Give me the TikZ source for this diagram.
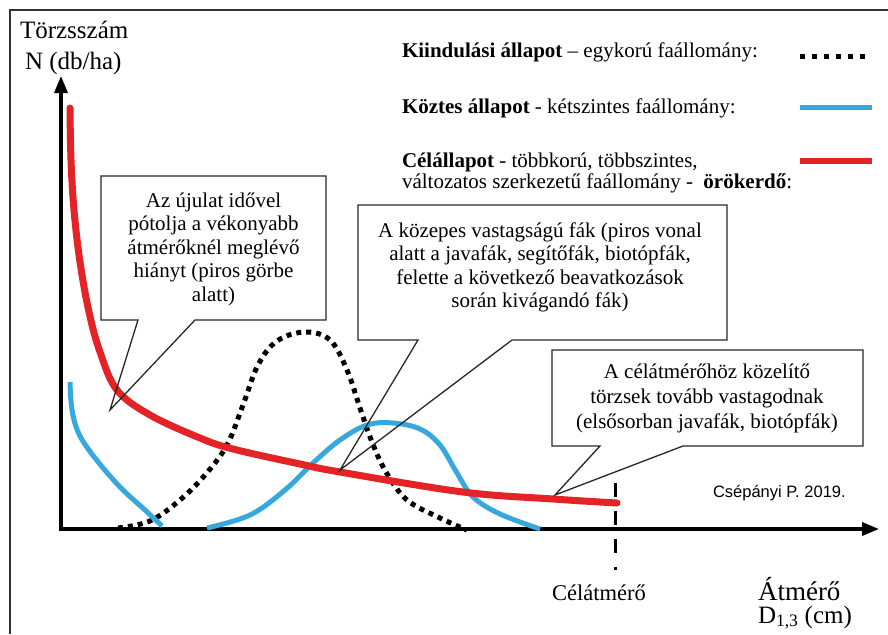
\documentclass[tikz,border=0pt]{standalone}
\usepackage{fontspec}
\setmainfont{Liberation Serif}
\newfontfamily\sansf{Liberation Sans}
\usetikzlibrary{arrows.meta}
\definecolor{cred}{RGB}{228,35,38}
\definecolor{cblue}{RGB}{55,168,222}
\begin{document}
\begin{tikzpicture}[x=1pt,y=-1pt,
  every node/.style={inner sep=0pt, outer sep=0pt},
  callout/.style={draw=black!85, line width=1.3pt, line join=miter},
  ctext/.style={align=center, font=\fontsize{21}{23.5}\selectfont, anchor=north},
  legtext/.style={anchor=base west, font=\fontsize{21}{25}\selectfont},
  axislabel/.style={font=\fontsize{25}{30}\selectfont, anchor=base west},
  axisline/.style={line width=3.5pt, {Triangle[length=17pt,width=13pt]}-{Triangle[length=17pt,width=13pt]}},
  redc/.style={cred, line width=7pt, line cap=round},
  bluec/.style={cblue, line width=5pt},
  dotc/.style={black, line width=5pt, dash pattern=on 5pt off 5pt},
  targetline/.style={black, line width=3pt, dash pattern=on 14pt off 14pt},
]
\useasboundingbox (0,0) rectangle (888,634);
% frame
\draw[black!80, line width=1.2pt] (10,634) -- (10,10) -- (888,10);

% axis labels
\node[axislabel] (ylab1) at (20,39) {Törzsszám};
\node[axislabel] (ylab2) at (25,70) {N (db/ha)};
\node[axislabel, font=\fontsize{27}{30}\selectfont] (xlab1) at (758,600) {Átmérő};
\node[axislabel] (xlab2) at (758,623) {D\textsubscript{1,3} (cm)};
\node[anchor=base, font=\fontsize{22.5}{25}\selectfont] (target) at (599,600) {Célátmérő};
\node[anchor=base west, font=\sansf\fontsize{16.5}{18}\selectfont] (author) at (713,497) {Csépányi P. 2019.};

% legend
\node[legtext] (leg1) at (402,58) {\textbf{Kiindulási állapot} – egykorú faállomány:};
\node[legtext] (leg2) at (402,113) {\textbf{Köztes állapot} - kétszintes faállomány:};
\node[legtext] (leg3) at (402,167) {\textbf{Célállapot} - többkorú, többszintes,};
\node[legtext] (leg4) at (402,188) {változatos szerkezetű faállomány - \ \textbf{örökerdő}:};
\coordinate (d1) at (800,57); \coordinate (d2) at (868,57);
\coordinate (b1) at (800,107); \coordinate (b2) at (872,107);
\coordinate (r1) at (800,161); \coordinate (r2) at (872,161);
\draw[dotc, dash pattern=on 5pt off 7pt] (d1) -- (d2);
\draw[cblue, line width=5pt] (b1) -- (b2);
\draw[cred, line width=6pt] (r1) -- (r2);

% axes
\coordinate (O) at (61,529);
\coordinate (ytip) at (61,76);
\coordinate (xtip) at (879,529);
\draw[axisline] (ytip) -- (O) -- (xtip);

% target diameter marker
\coordinate (t1) at (615,483); \coordinate (t2) at (615,570);
\draw[targetline] (t1) -- (t2);

% curves
\draw[dotc] plot[smooth, tension=0.6] coordinates {(118,528) (150,521) (180,500) (205,475) (227,445) (243,405) (258,365) (277,341) (305,332) (330,340) (347,370) (360,408) (372,442) (386,472) (407,500) (440,518) (467,530)};
\draw[bluec] plot[smooth, tension=0.6] coordinates {(70,382) (72,410) (79,434) (95,458) (120,487) (145,510) (162,526)};
\draw[bluec] plot[smooth, tension=0.6] coordinates {(207,528) (250,515) (285,490) (313,463) (340,440) (367,425) (393,423) (420,429) (440,445) (457,473) (473,497) (500,514) (540,529)};
\draw[redc] plot[smooth, tension=0.6] coordinates {(70,108) (71,160) (74,210) (80,262) (89,312) (100,352) (117,390) (150,415) (200,438) (233,449) (300,464) (340,472) (463,492) (553,499) (617,503)};

% callout 1
\coordinate (c1tip) at (110,410);
\draw[callout] (101,176) -- (326,176) -- (326,320) -- (195,320) -- (c1tip) -- (138,320) -- (101,320) -- cycle;
\node[ctext] (c1) at (213.5,192.5) {Az újulat idővel\\pótolja a vékonyabb\\átmérőknél meglévő\\hiányt (piros görbe\\alatt)};
% callout 2
\coordinate (c2tip) at (340,470);
\draw[callout] (358,205) -- (727,205) -- (727,340) -- (512,340) -- (c2tip) -- (418,340) -- (358,340) -- cycle;
\node[ctext] (c2) at (540,222.5) {A közepes vastagságú fák (piros vonal\\alatt a javafák, segítőfák, biotópfák,\\felette a következő beavatkozások\\során kivágandó fák)};
% callout 3
\coordinate (c3tip) at (555,495);
\draw[callout] (552,350) -- (863,350) -- (863,446) -- (683,446) -- (c3tip) -- (600,446) -- (552,446) -- cycle;
\node[ctext, font=\fontsize{21}{25}\selectfont] (c3) at (707,363.5) {A célátmérőhöz közelítő\\törzsek tovább vastagodnak\\(elsősorban javafák, biotópfák)};
\end{tikzpicture}
\end{document}
